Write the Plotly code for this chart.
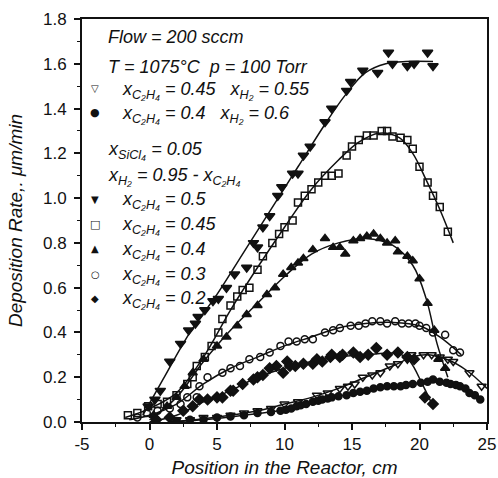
import plotly.graph_objects as go

# ---- data ----
# x_C2H4 = 0.5 (filled down-triangles)
x_05 = [-0.1, 0.4, 0.8, 1.5, 2.3, 2.9, 3.4, 3.6, 4.1, 4.7, 5.1, 5.7, 6.3, 7.2, 7.7, 8.0, 8.4, 8.9, 9.5, 9.8,
        10.6, 11.0, 11.4, 11.9, 13.0, 13.5, 14.6, 14.9, 15.8, 16.9, 17.7, 18.0, 19.1, 19.6, 20.6, 21.0]
y_05 = [0.07, 0.10, 0.14, 0.27, 0.35, 0.41, 0.44, 0.47, 0.50, 0.54, 0.55, 0.60, 0.66, 0.69, 0.80, 0.78, 0.87, 0.92, 1.01, 1.05,
        1.11, 1.11, 1.19, 1.23, 1.34, 1.40, 1.48, 1.52, 1.57, 1.56, 1.65, 1.60, 1.59, 1.60, 1.65, 1.59]
fx_05 = [-0.5, 1, 3, 5, 7, 9, 11, 13, 14.5, 16, 17.5, 19, 21]
fy_05 = [0.03, 0.19, 0.40, 0.57, 0.76, 0.95, 1.14, 1.33, 1.46, 1.56, 1.60, 1.61, 1.61]

# x_C2H4 = 0.45 (open squares)
x_045 = [-1.6, -0.9, -0.1, 0.6, 1.3, 2.0, 2.8, 3.2, 3.5, 4.1, 4.6, 5.1, 5.4, 6.0, 6.5, 6.9, 7.4, 8.0, 8.4, 9.1, 9.6,
         10.0, 10.6, 11.0, 11.5, 12.0, 12.5, 13.0, 13.5, 14.0, 14.6, 15.0, 15.5, 16.1, 16.6, 17.2, 17.6, 18.0, 18.6,
         19.1, 19.5, 20.0, 20.6, 21.0, 21.5, 22.1]
y_045 = [0.03, 0.04, 0.07, 0.08, 0.09, 0.12, 0.17, 0.20, 0.25, 0.29, 0.34, 0.40, 0.46, 0.52, 0.56, 0.59, 0.60, 0.68, 0.74, 0.80, 0.84,
         0.87, 0.90, 0.98, 1.01, 1.04, 1.07, 1.10, 1.10, 1.11, 1.19, 1.23, 1.26, 1.28, 1.28, 1.30, 1.30, 1.275, 1.27,
         1.26, 1.22, 1.14, 1.07, 1.01, 0.96, 0.85]
fx_045 = [-1.8, 0, 2, 4, 6, 8, 10, 12, 14, 15.5, 17, 18.5, 19.5, 20.5, 21.5, 22.5]
fy_045 = [0.02, 0.06, 0.13, 0.29, 0.50, 0.69, 0.87, 1.04, 1.17, 1.25, 1.29, 1.27, 1.20, 1.08, 0.95, 0.80]

# x_C2H4 = 0.4 (filled up-triangles)
x_04 = [0.3, 1.3, 2.0, 2.6, 3.2, 4.0, 5.0, 5.7, 6.5, 7.2, 8.0, 8.7, 9.3, 9.9, 10.5, 11.0, 11.4, 12.1, 13.0, 13.6,
        14.1, 14.5, 15.1, 15.6, 16.1, 16.6, 17.1, 17.6, 18.2, 18.4, 19.1, 19.5, 20.0, 20.6, 21.1, 21.4, 21.9]
y_04 = [0.03, 0.07, 0.11, 0.16, 0.22, 0.28, 0.34, 0.38, 0.43, 0.48, 0.52, 0.57, 0.60, 0.66, 0.69, 0.71, 0.73, 0.77, 0.82, 0.78,
        0.78, 0.75, 0.81, 0.82, 0.83, 0.84, 0.82, 0.80, 0.81, 0.76, 0.74, 0.72, 0.64, 0.53, 0.41, 0.28, 0.24]
fx_04 = [0, 2, 4, 6, 8, 10, 12, 14, 16, 18, 19.5, 20.5, 21.3, 22.1]
fy_04 = [0.01, 0.11, 0.27, 0.41, 0.53, 0.65, 0.75, 0.80, 0.82, 0.79, 0.70, 0.55, 0.35, 0.20]

# x_C2H4 = 0.3 (open circles)
x_03 = [-0.9, -0.2, 0.6, 1.5, 2.3, 2.8, 3.5, 3.7, 4.3, 5.4, 6.0, 6.7, 7.4, 8.2, 8.9, 9.7, 10.3, 10.9, 11.5, 12.1,
        13.0, 13.6, 14.1, 14.9, 15.5, 16.0, 16.5, 17.1, 17.6, 18.2, 18.7, 19.2, 19.7, 20.0, 20.5, 21.0, 21.9, 22.5, 23.0]
y_03 = [0.02, 0.04, 0.05, 0.06, 0.08, 0.11, 0.11, 0.16, 0.20, 0.22, 0.24, 0.25, 0.28, 0.29, 0.31, 0.34, 0.36, 0.36, 0.37, 0.37,
        0.40, 0.41, 0.42, 0.43, 0.43, 0.44, 0.45, 0.45, 0.44, 0.45, 0.44, 0.44, 0.44, 0.43, 0.42, 0.40, 0.39, 0.32, 0.31]
fx_03 = [-1.5, 0, 2, 4, 6, 8, 10, 12, 14, 16, 18, 20, 21.5, 23.1]
fy_03 = [0.01, 0.03, 0.08, 0.17, 0.24, 0.29, 0.34, 0.38, 0.42, 0.44, 0.445, 0.43, 0.38, 0.30]

# x_C2H4 = 0.2 (filled diamonds)
x_02 = [0.5, 1.5, 2.5, 3.2, 3.7, 4.3, 5.0, 5.4, 6.0, 6.2, 6.9, 7.7, 8.0, 8.4, 8.9, 9.4, 9.9, 10.2, 10.4, 10.8,
        11.4, 12.1, 12.4, 12.8, 13.4, 13.5, 14.1, 14.3, 15.1, 15.6, 16.2, 16.8, 17.6, 18.4, 19.1, 19.6, 20.4, 21.0]
y_02 = [0.01, 0.02, 0.05, 0.07, 0.10, 0.10, 0.11, 0.11, 0.14, 0.14, 0.17, 0.19, 0.20, 0.21, 0.24, 0.25, 0.22, 0.27, 0.25, 0.25,
        0.26, 0.26, 0.28, 0.27, 0.29, 0.30, 0.29, 0.30, 0.31, 0.29, 0.30, 0.33, 0.30, 0.31, 0.29, 0.28, 0.11, 0.08]
fx_02 = [0, 2, 4, 6, 8, 10, 12, 14, 16, 18.5, 19.3, 20.2, 21.0]
fy_02 = [0.0, 0.03, 0.09, 0.14, 0.20, 0.24, 0.27, 0.29, 0.30, 0.305, 0.27, 0.17, 0.07]

# x_C2H4 = 0.45, x_H2 = 0.55 (open down-triangles)
x_a = [2.0, 3.0, 4.0, 5.0, 6.0, 7.0, 8.0, 9.0, 10.0, 11.0, 12.4, 13.2, 14.1, 14.7, 15.2, 15.8, 16.5, 17.1, 17.8,
       18.4, 19.1, 19.4, 20.3, 20.9, 21.5, 22.1, 22.5, 23.7, 24.6]
y_a = [0.01, 0.01, 0.02, 0.02, 0.03, 0.04, 0.05, 0.06, 0.08, 0.09, 0.12, 0.13, 0.15, 0.16, 0.17, 0.20, 0.21, 0.22, 0.25,
       0.26, 0.28, 0.30, 0.30, 0.30, 0.29, 0.28, 0.27, 0.22, 0.16]
fx_a = [1.5, 4, 6, 8, 10, 12, 14, 16, 18, 19.5, 20.5, 22, 23.5, 25]
fy_a = [0.0, 0.015, 0.03, 0.05, 0.08, 0.11, 0.15, 0.20, 0.25, 0.29, 0.30, 0.28, 0.23, 0.15]

# x_C2H4 = 0.4, x_H2 = 0.6 (filled circles)
x_b = [2.0, 3.0, 4.0, 5.0, 6.0, 7.0, 8.0, 9.0, 9.7, 10.1, 10.5, 10.9, 11.2, 11.6, 12.1, 12.5, 12.8, 13.2, 13.5, 14.0,
       14.6, 15.1, 15.6, 16.1, 16.6, 17.1, 17.6, 18.1, 18.6, 19.0, 19.5, 20.1, 20.6, 21.0, 21.5, 22.0, 22.3, 22.7,
       23.0, 23.4, 23.7, 24.1, 24.5]
y_b = [0.005, 0.01, 0.01, 0.02, 0.025, 0.03, 0.04, 0.045, 0.05, 0.055, 0.06, 0.07, 0.075, 0.08, 0.09, 0.095, 0.10, 0.105, 0.11, 0.115,
       0.12, 0.13, 0.135, 0.14, 0.15, 0.155, 0.16, 0.16, 0.16, 0.165, 0.17, 0.175, 0.18, 0.19, 0.18, 0.175, 0.17, 0.165,
       0.16, 0.15, 0.13, 0.12, 0.10]
fx_b = [1.5, 4, 7, 10, 12, 14, 16, 18, 20, 21, 22, 23, 24, 24.6]
fy_b = [0.0, 0.01, 0.03, 0.055, 0.085, 0.115, 0.14, 0.16, 0.175, 0.18, 0.175, 0.16, 0.13, 0.10]

x_ticks = [-5, 0, 5, 10, 15, 20, 25]
x_ticktext = ["-5", "0", "5", "10", "15", "20", "25"]
y_ticks = [0.0, 0.2, 0.4, 0.6, 0.8, 1.0, 1.2, 1.4, 1.6, 1.8]

BLACK = "#111111"
FONT = "Liberation Sans"

fig = go.Figure()

series = [
    (fx_05, fy_05, x_05, y_05, "triangle-down", 9),
    (fx_045, fy_045, x_045, y_045, "square-open", 7),
    (fx_04, fy_04, x_04, y_04, "triangle-up", 8),
    (fx_03, fy_03, x_03, y_03, "circle-open", 7),
    (fx_02, fy_02, x_02, y_02, "diamond", 8),
    (fx_a, fy_a, x_a, y_a, "triangle-down-open", 8),
    (fx_b, fy_b, x_b, y_b, "circle", 7),
]
for fx, fy, px, py, sym, sz in series:
    fig.add_trace(go.Scatter(x=fx, y=fy, mode="lines", line=dict(color=BLACK, width=1.5, shape="spline"),
                             showlegend=False, hoverinfo="skip"))
    fig.add_trace(go.Scatter(x=px, y=py, mode="markers",
                             marker=dict(symbol=sym, size=sz, color=BLACK, line=dict(color=BLACK, width=1.5)),
                             showlegend=False))

# plot area spans 405 x 403 px starting at (82, 19)
def paper(px, py):
    return (px - 82) / 405.0, 1 - (py - 19) / 403.0

xc = "x<sub>C₂H₄</sub>"
xh = "x<sub>H₂</sub>"
xs = "x<sub>SiCl₄</sub>"

texts = [
    (106, 37, "Flow = 200 sccm"),
    (106, 67, "T = 1075°C  p = 100 Torr"),
    (120, 90, f"{xc} = 0.45   {xh} = 0.55"),
    (120, 114, f"{xc} = 0.4   {xh} = 0.6"),
    (106, 150, f"{xs} = 0.05"),
    (106, 176, f"{xh} = 0.95 - {xc}"),
    (120, 200, f"{xc} = 0.5"),
    (120, 225, f"{xc} = 0.45"),
    (120, 250, f"{xc} = 0.4"),
    (120, 275, f"{xc} = 0.3"),
    (120, 299, f"{xc} = 0.2"),
]
for px, py, t in texts:
    ax_, ay_ = paper(px, py)
    fig.add_annotation(x=ax_, y=ay_, xref="paper", yref="paper", text=t, showarrow=False,
                       xanchor="left", yanchor="middle",
                       font=dict(family=FONT, size=18, color=BLACK, style="italic"))

symbols = [(95, 89, "▽", 10), (95, 113, "●", 11), (95, 199, "▼", 10), (95, 224, "□", 11),
           (95, 249, "▲", 10), (95, 274, "○", 10), (95, 298, "◆", 10)]
for px, py, s, sz in symbols:
    ax_, ay_ = paper(px, py)
    fig.add_annotation(x=ax_, y=ay_, xref="paper", yref="paper", text=s, showarrow=False,
                       xanchor="center", yanchor="middle",
                       font=dict(family="DejaVu Sans", size=sz, color=BLACK))

fig.update_layout(
    width=498, height=478,
    margin=dict(l=82, r=11, t=19, b=56, autoexpand=False),
    paper_bgcolor="white", plot_bgcolor="white",
    font=dict(family=FONT, color=BLACK),
    xaxis=dict(range=[-5, 25], tickvals=x_ticks, ticktext=x_ticktext, ticks="outside", ticklen=6, tickwidth=1.5,
               tickcolor=BLACK, showline=True, linecolor=BLACK, linewidth=2, mirror=True, automargin=False,
               showgrid=False, zeroline=False, tickfont=dict(size=17, family=FONT, color=BLACK),
               minor=dict(dtick=2.5, ticks="outside", ticklen=3, tickcolor=BLACK, tickwidth=1.2),
               title=dict(text="Position in the Reactor, cm",
                          font=dict(size=19, family=FONT, color=BLACK, style="italic"))),
    yaxis=dict(range=[0, 1.8], tickvals=y_ticks, tickformat=".1f", ticks="outside", ticklen=6, tickwidth=1.5,
               tickcolor=BLACK, showline=True, linecolor=BLACK, linewidth=2, mirror=True, automargin=False,
               showgrid=False, zeroline=False, tickfont=dict(size=17, family=FONT, color=BLACK),
               ticklabelstandoff=4,
               minor=dict(dtick=0.1, ticks="outside", ticklen=3, tickcolor=BLACK, tickwidth=1.2),
               title=dict(text="Deposition Rate,. μm/min",
                          font=dict(size=19, family=FONT, color=BLACK, style="italic"))),
)

fig.write_html("out.html", config={"displayModeBar": False},
               post_script="document.body.style.margin='0px';document.body.style.overflow='hidden';")
